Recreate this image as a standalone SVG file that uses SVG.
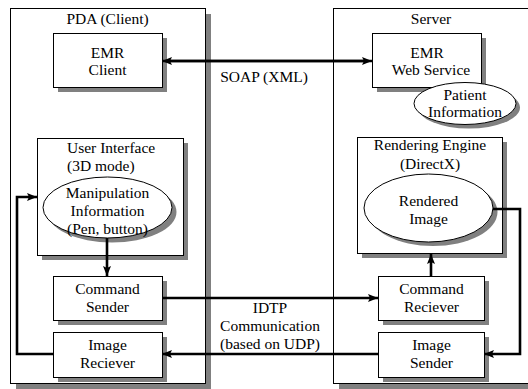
<svg xmlns="http://www.w3.org/2000/svg" width="528" height="389" viewBox="0 0 528 389">
<defs>
<marker id="ah" markerUnits="userSpaceOnUse" markerWidth="12" markerHeight="10" refX="10" refY="4" orient="auto">
<path d="M0,0 L10,4 L0,8 L2,4 Z" fill="#000"/>
</marker>
</defs>
<style>
.box{fill:#fff;stroke:#000;stroke-width:1}
.sh{fill:#808080}
.t{font-family:"Liberation Serif","DejaVu Serif Condensed","DejaVu Serif",serif;font-stretch:condensed;font-size:15.5px;fill:#000;text-anchor:middle}
.tl{text-anchor:start}
.c{fill:none;stroke:#000;stroke-width:2.6}
</style>
<rect width="528" height="389" fill="#fff"/>
<g id="pda">
<rect class="sh" x="16" y="14" width="195" height="375"/>
<rect class="box" x="10.5" y="8.5" width="195" height="375"/>
<text class="t" x="107.5" y="24">PDA (Client)</text>
</g>
<g id="server">
<rect class="sh" x="339" y="14" width="200" height="375"/>
<rect class="box" x="333.5" y="8.5" width="200" height="375"/>
<text class="t" x="431" y="24">Server</text>
</g>
<g id="emr-client">
<rect class="sh" x="58" y="38" width="109" height="54"/>
<rect class="box" x="53.5" y="33.5" width="109" height="54"/>
<text class="t" x="107.5" y="58">EMR</text>
<text class="t" x="107.5" y="75">Client</text>
</g>
<g id="emr-web-service">
<rect class="sh" x="377" y="38" width="109" height="54"/>
<rect class="box" x="372.5" y="33.5" width="109" height="54"/>
<text class="t" x="427" y="58">EMR</text>
<text class="t" x="431" y="75">Web Service</text>
</g>
<g id="patient-info">
<ellipse class="sh" cx="469" cy="107.5" rx="51" ry="21"/>
<ellipse class="box" cx="465" cy="103.5" rx="51" ry="21"/>
<text class="t" x="465" y="100">Patient</text>
<text class="t" x="465" y="117">Information</text>
</g>
<g id="user-interface">
<rect class="sh" x="42" y="143" width="146" height="117"/>
<rect class="box" x="37.5" y="138.5" width="146" height="117"/>
<text class="t tl" x="67" y="153">User Interface</text>
<text class="t tl" x="67" y="171">(3D mode)</text>
</g>
<g id="manipulation-info">
<ellipse class="sh" cx="112" cy="212" rx="64.5" ry="30.5"/>
<ellipse class="box" cx="107.5" cy="207.5" rx="64.5" ry="30.5"/>
<text class="t" x="107.5" y="198">Manipulation</text>
<text class="t" x="107.5" y="216">Information</text>
<text class="t" x="107.5" y="234">(Pen, button)</text>
</g>
<g id="rendering-engine">
<rect class="sh" x="362" y="142" width="145" height="116"/>
<rect class="box" x="357.5" y="137.5" width="145" height="116"/>
<text class="t" x="430" y="150">Rendering Engine</text>
<text class="t" x="430" y="169">(DirectX)</text>
</g>
<g id="rendered-image">
<ellipse class="sh" cx="433" cy="212" rx="64.5" ry="34"/>
<ellipse class="box" cx="428.5" cy="208" rx="64.5" ry="34"/>
<text class="t" x="428.5" y="206">Rendered</text>
<text class="t" x="428.5" y="224">Image</text>
</g>
<g id="command-sender">
<rect class="sh" x="58" y="281" width="109" height="44"/>
<rect class="box" x="53.5" y="276.5" width="109" height="44"/>
<text class="t" x="107.5" y="294">Command</text>
<text class="t" x="107.5" y="312">Sender</text>
</g>
<g id="image-reciever">
<rect class="sh" x="58" y="337" width="109" height="45"/>
<rect class="box" x="53.5" y="332.5" width="109" height="45"/>
<text class="t" x="107.5" y="350">Image</text>
<text class="t" x="107.5" y="368">Reciever</text>
</g>
<g id="command-reciever">
<rect class="sh" x="383" y="281" width="106" height="44"/>
<rect class="box" x="378.5" y="276.5" width="106" height="44"/>
<text class="t" x="431.5" y="294">Command</text>
<text class="t" x="431.5" y="312">Reciever</text>
</g>
<g id="image-sender">
<rect class="sh" x="383" y="337" width="106" height="45"/>
<rect class="box" x="378.5" y="332.5" width="106" height="45"/>
<text class="t" x="431.5" y="350">Image</text>
<text class="t" x="431.5" y="368">Sender</text>
</g>
<g id="connectors">
<path class="c" d="M168 61 H372" marker-end="url(#ah)"/>
<path class="c" d="M366 61 H162" marker-end="url(#ah)"/>
<path class="c" d="M53 354 H17 V197 H37" marker-end="url(#ah)"/>
<path class="c" d="M107 238 V276" marker-end="url(#ah)"/>
<path class="c" d="M163 298 H378" marker-end="url(#ah)"/>
<path class="c" d="M378 354 H162" marker-end="url(#ah)"/>
<path class="c" d="M493 209 H520 V354 H484" marker-end="url(#ah)"/>
<path class="c" d="M431 276 V254" marker-end="url(#ah)"/>
<text class="t" x="264" y="82">SOAP (XML)</text>
<text class="t" x="270" y="313">IDTP</text>
<text class="t" x="270" y="331">Communication</text>
<text class="t" x="270" y="349">(based on UDP)</text>
</g>
</svg>
